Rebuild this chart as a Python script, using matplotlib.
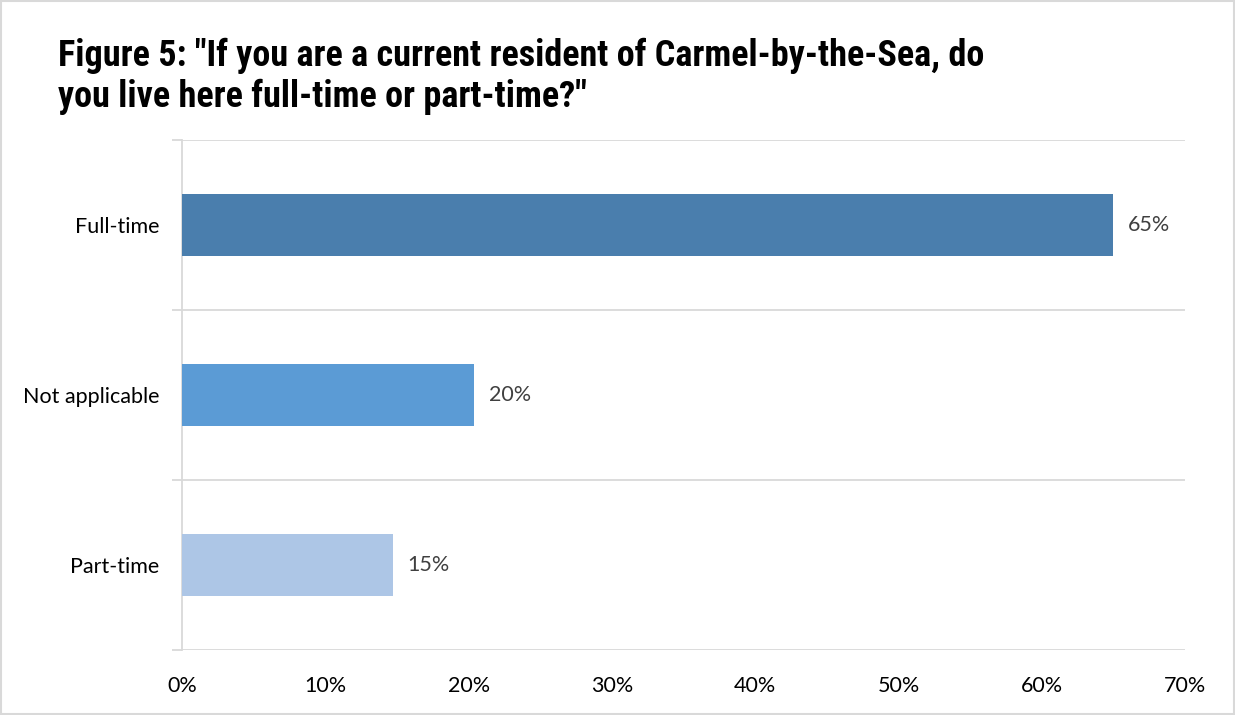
import matplotlib.pyplot as plt
from matplotlib import font_manager
from matplotlib.ticker import FixedLocator, PercentFormatter

categories = ["Full-time", "Not applicable", "Part-time"]
values = [65, 20.4, 14.7]
labels = ["65%", "20%", "15%"]
colors = ["#4A7EAD", "#5B9BD5", "#ADC6E6"]

title = ('Figure 5: "If you are a current resident of Carmel-by-the-Sea, do\n'
         'you live here full-time or part-time?"')


def pick(names):
    # first installed family of the list
    for n in names:
        try:
            font_manager.findfont(n, fallback_to_default=False)
            return n
        except ValueError:
            pass
    return "DejaVu Sans"


narrow = pick(["Liberation Sans Narrow", "Arial Narrow", "Roboto Condensed"])
body = pick(["Lato", "Open Sans"])

fig = plt.figure(figsize=(12.35, 7.15), dpi=100)
ax = fig.add_axes([182 / 1235, 1 - 650 / 715, (1185 - 182) / 1235, (650 - 140) / 715])

ypos = list(range(len(categories)))
ax.barh(ypos, values, height=0.36, color=colors, zorder=3)
for y, v, t in zip(ypos, values, labels):
    ax.text(v + 1.0, y, t, va="center", ha="left", fontsize=15.5, color="#404040", family=body)

ax.set_xlim(0, 70)
ax.set_ylim(len(categories) - 0.5, -0.5)
ax.set_xticks(range(0, 71, 10))
ax.xaxis.set_major_formatter(PercentFormatter(decimals=0))
ax.set_yticks(ypos)
ax.set_yticklabels(categories)
ax.yaxis.set_minor_locator(FixedLocator([-0.5, 0.5, 1.5, 2.5]))

ax.tick_params(axis="x", length=0, pad=19, labelsize=15.5, labelcolor="#000000")
ax.tick_params(axis="y", which="major", length=0, pad=16.5, labelsize=15.5)
ax.tick_params(axis="y", which="minor", length=7, color="#D9D9D9", width=1.3)
for lab in ax.get_xticklabels() + ax.get_yticklabels():
    lab.set_family(body)

ax.grid(axis="y", which="minor", color="#D9D9D9", linewidth=1.3, zorder=0)
for s in ["top", "right", "bottom"]:
    ax.spines[s].set_visible(False)
ax.spines["left"].set_color("#D9D9D9")
ax.spines["left"].set_linewidth(1.3)

fig.text(58 / 1235, 1 - 38 / 715, title, ha="left", va="top", fontsize=26,
         fontweight="bold", family=narrow, linespacing=1.15)

fig.patches.append(plt.Rectangle((0.001, 0.001), 0.998, 0.997, transform=fig.transFigure,
                                 fill=False, edgecolor="#D9D9D9", linewidth=1.5))

fig.savefig("out.png", dpi=100)
